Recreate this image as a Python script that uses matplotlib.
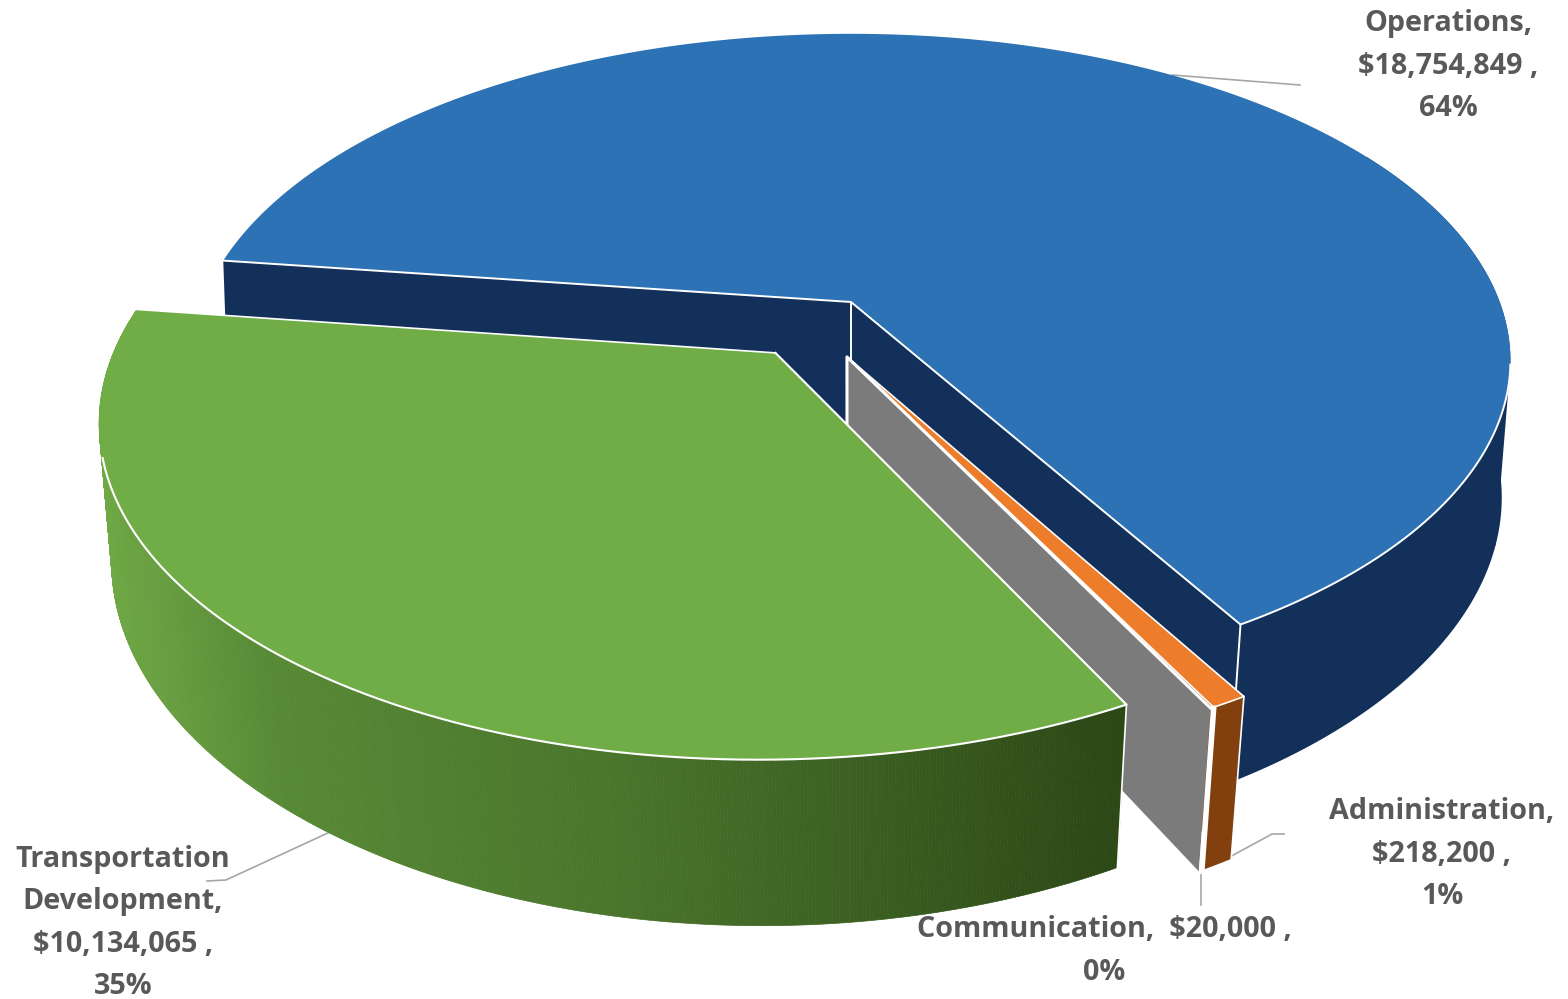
import numpy as np
import matplotlib
matplotlib.use('Agg')
import matplotlib.pyplot as plt
from matplotlib.colors import to_rgb

plt.rcParams['font.family'] = ['Open Sans', 'DejaVu Sans']

# 各部分预算
categories = ['Operations', 'Administration', 'Communication', 'Transportation Development']
amounts = [18754849, 218200, 20000, 10134065]
percents = ['64%', '1%', '0%', '35%']
top_colors = ['#2c72b4', '#ee7d2b', '#7f7f7f', '#70ad47']
wall_colors = ['#12305a', '#83400f', '#7b7b7b', '#3f6a28']
# 每一块的平移量(平面坐标)和半径
offsets = [(0.0, 0.0), (-0.006, -0.168), (-0.006, -0.168), (-0.113, -0.156)]
radii = [0.998, 0.985, 0.985, 0.99]

START_DEG = 277.7
CX, CY = 851, 302     # 圆心投影位置
SX, SY = 650, 317     # 水平/垂直缩放
PERSP = 0.18          # 透视系数
EDGE = 'white'


def project(x, y):
    """平面坐标 -> 顶面屏幕坐标"""
    w = 1 + PERSP * y
    return CX + SX * x / w, CY - SY * y / w


def project_bottom(x, y):
    """底面屏幕坐标, 越靠近观察者厚度越大, 横向收缩也越明显"""
    sx, sy = project(x, y)
    w = 1 + PERSP * y
    depth = 140 + 100 * (1 / w - 1)
    shrink = 0.99 - 0.10 * (1 / w - 1)
    return CX + (sx - CX) * shrink, sy + depth


def rim(theta, off, r):
    return off[0] + r * np.sin(theta), off[1] + r * np.cos(theta)


def radial_wall(ax, theta, off, r, color, z=2):
    x, y = rim(theta, off, r)
    a = project(off[0], off[1])
    b = project(x, y)
    c = project_bottom(x, y)
    d = project_bottom(off[0], off[1])
    ax.fill([a[0], b[0], c[0], d[0]], [a[1], b[1], c[1], d[1]], color=color, lw=0, zorder=z)
    return a, b, c, d


def outer_wall(ax, t0, t1, off, r, color, z=2):
    t = np.linspace(t0, t1, 200)
    x, y = rim(t, off, r)
    tx, ty = project(x, y)
    bx, by = project_bottom(x, y)
    ax.fill(np.r_[tx, bx[::-1]], np.r_[ty, by[::-1]], color=color, lw=0, zorder=z)


def green_shade(px):
    # 绿色侧面从左到右逐渐变暗
    stops = [(100, '#6fa845'), (260, '#578a35'), (620, '#49742b'), (1130, '#2b4715')]
    xs = [s[0] for s in stops]
    rgb = np.array([to_rgb(s[1]) for s in stops])
    return [float(np.interp(px, xs, rgb[:, k])) for k in range(3)]


fig = plt.figure(figsize=(15.68, 9.99), dpi=100)
ax = fig.add_axes([0, 0, 1, 1])
ax.set_xlim(0, 1568)
ax.set_ylim(999, 0)
ax.axis('off')

# 根据金额计算每块的角度
amounts_arr = np.array(amounts, dtype=float)
sweeps = 2 * np.pi * amounts_arr / amounts_arr.sum()
starts = np.radians(START_DEG) + np.r_[0, np.cumsum(sweeps)[:-1]]
ends = starts + sweeps
t_blue = (starts[0], ends[0])
t_orange = (starts[1], ends[1])
t_gray = (starts[2], ends[2])
t_green = (starts[3], ends[3])

# 蓝色: 外侧面 + 两个切面 + 顶面
outer_wall(ax, np.radians(60) + 2 * np.pi, t_blue[1], offsets[0], radii[0], wall_colors[0], z=1)
a0, b0, c0, d0 = radial_wall(ax, t_blue[0], offsets[0], radii[0], wall_colors[0], z=1.2)
a1, b1, c1, d1 = radial_wall(ax, t_blue[1], offsets[0], radii[0], wall_colors[0], z=1.2)
# 右侧轮廓: 顶面边缘到底面边缘的切线
p_top = project(*rim(np.radians(101), offsets[0], radii[0]))
p_bot = project_bottom(*rim(np.radians(107), offsets[0], radii[0]))
p_in = project_bottom(*rim(np.radians(130), offsets[0], radii[0]))
ax.fill([p_top[0], p_bot[0], p_in[0]], [p_top[1], p_bot[1], p_in[1]], color=wall_colors[0], lw=0, zorder=1)
t = np.linspace(t_blue[0], t_blue[1], 300)
x, y = rim(t, offsets[0], radii[0])
tx, ty = project(np.r_[offsets[0][0], x], np.r_[offsets[0][1], y])
ax.fill(tx, ty, color=top_colors[0], lw=0, zorder=3)
ax.plot([b0[0], a0[0], b1[0]], [b0[1], a0[1], b1[1]], color=EDGE, lw=1.4, zorder=4)
ax.plot([a1[0], d1[0]], [a1[1], d1[1]], color=EDGE, lw=1.4, zorder=2.5)
ax.plot([b1[0], c1[0]], [b1[1], c1[1]], color=EDGE, lw=1.4, zorder=2.5)
near_arc = np.linspace(np.radians(101), t_blue[1] - 2 * np.pi if t_blue[1] > 2 * np.pi else t_blue[1], 120)
ax.plot(*project(*rim(near_arc, offsets[0], radii[0])), color=EDGE, lw=1.4, zorder=4)

# 橙色
z_o = 5
outer_wall(ax, t_orange[0], t_orange[1], offsets[1], radii[1], wall_colors[1], z=z_o)
a, b, c, d = radial_wall(ax, t_orange[0], offsets[1], radii[1], wall_colors[1], z=z_o - 0.1)
t = np.linspace(t_orange[0], t_orange[1], 20)
x, y = rim(t, offsets[1], radii[1])
tx, ty = project(np.r_[offsets[1][0], x], np.r_[offsets[1][1], y])
ax.fill(tx, ty, color=top_colors[1], lw=0, zorder=z_o + 0.2)
ax.plot(np.r_[tx, tx[0]], np.r_[ty, ty[0]], color=EDGE, lw=1.2, zorder=z_o + 0.3)
ax.plot([b[0], c[0]], [b[1], c[1]], color=EDGE, lw=1.2, zorder=z_o + 0.3)

# 灰色: 几乎只能看到切面
a, b, c, d = radial_wall(ax, t_gray[1], offsets[2], radii[2], wall_colors[2], z=z_o + 0.4)
ax.plot([d[0], a[0], b[0]], [d[1], a[1], b[1]], color=EDGE, lw=2.2, zorder=z_o + 0.5)
ax.plot([b[0] + 3, c[0] + 3], [b[1], c[1]], color=EDGE, lw=4, zorder=z_o + 0.5)

# 绿色: 侧面分段着色
z_g = 7
g_t = np.linspace(t_green[0], t_green[1], 500)
gx_all, gy_all = rim(g_t, offsets[3], radii[3])
gx, gy = project(gx_all, gy_all)
bx, by = project_bottom(gx_all, gy_all)
for i in range(len(g_t) - 1, 0, -1):
    ax.fill([gx[i], gx[i - 1], bx[i - 1], bx[i]], [gy[i], gy[i - 1], by[i - 1], by[i]],
            color=green_shade(gx[i]), lw=0.5, zorder=z_g)
apex = project(*offsets[3])
ax.fill(np.r_[apex[0], gx], np.r_[apex[1], gy], color=top_colors[3], lw=0, zorder=z_g + 0.2)
visible = np.arange(len(g_t))[(gy > 457) | (gx > 851)]
ax.plot(np.r_[apex[0], gx[visible]], np.r_[apex[1], gy[visible]], color=EDGE, lw=1.5, zorder=z_g + 0.3)
ax.plot([apex[0], gx[-1]], [apex[1], gy[-1]], color=EDGE, lw=1.2, zorder=z_g + 0.3)
ax.plot([gx[0], bx[0]], [gy[0], by[0]], color=EDGE, lw=1.2, zorder=z_g + 0.3)

# 引线
leader = '#a6a6a6'
ax.plot([1172, 1300], [75, 85], color=leader, lw=1.2, zorder=2)
ax.plot([330, 226, 207], [832, 880, 881], color=leader, lw=1.2, zorder=2)
ax.plot([1226, 1272, 1284], [859, 834, 834], color=leader, lw=1.2, zorder=2)
ax.plot([1201, 1201], [872, 905], color=leader, lw=1.2, zorder=2)

# 数据标签
label_style = dict(color='#595959', fontsize=20.7, fontweight='bold', ha='center',
                   va='center', linespacing=1.6, zorder=10)
ax.text(1448, 66, f'{categories[0]},\n${amounts[0]:,} ,\n{percents[0]}', **label_style)
ax.text(1442, 854, f'{categories[1]},\n${amounts[1]:,} ,\n{percents[1]}', **label_style)
ax.text(1104, 951, f'{categories[2]},  ${amounts[2]:,} ,\n{percents[2]}', **label_style)
ax.text(123, 923, 'Transportation\nDevelopment,\n' + f'${amounts[3]:,} ,\n{percents[3]}', **label_style)

fig.savefig('out.png', dpi=100, facecolor='white')
